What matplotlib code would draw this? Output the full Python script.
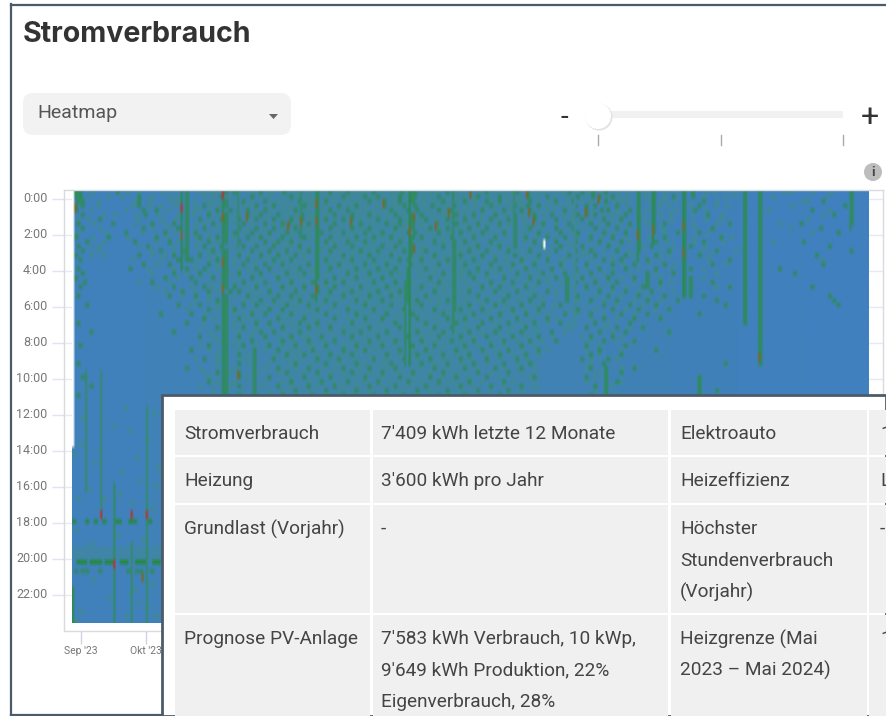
import matplotlib
matplotlib.use('Agg')
import matplotlib.pyplot as plt
import numpy as np
from matplotlib.colors import LinearSegmentedColormap
from matplotlib.patches import Circle, FancyBboxPatch, Polygon, Rectangle
from matplotlib.transforms import ScaledTranslation

plt.rcParams['font.family'] = ['Roboto', 'DejaVu Sans']

N_DAYS = 367
N_ROWS = 96

hour_labels = ['0:00', '2:00', '4:00', '6:00', '8:00', '10:00', '12:00',
               '14:00', '16:00', '18:00', '20:00', '22:00']
month_labels = ["Sep '23", "Okt '23"]
month_days = [4, 34]

# tint per month (start day, level)
month_base = [(0, 0.02), (34, 0.05), (64, 0.10), (95, 0.14), (126, 0.16), (157, 0.16),
              (185, 0.12), (216, 0.07), (246, 0.06), (277, 0.03), (307, 0.01), (338, 0.0)]

# quarter hour rows 0-45, day of each marked cell, negative = the paler green
rows_top = [
    [1, 3, 20, -30, 52, -60, -66, 70, 74, -80, 86, -92, 97, -104, 112, 118, 126, -132, 138, -146, 151, 155, 157, -164, 172, -178, 190, -196, 204, 209, -222, 228, 234, 239, 245, -250, 260, 267, -272, 281, 285, -295, 309, 316, -330, 358],
    [1, 3, -22, 30, -44, 52, 68, -75, 82, -90, 100, -106, 112, -120, 124, 134, 140, 150, 155, 157, 168, -176, 186, 196, -202, 209, 218, -226, 232, 239, 242, 248, -254, 260, 267, 276, 281, 285, -300, 309, 316, 358],
    [2, 4, -28, 30, -48, 52, -62, 70, 78, 88, -94, 104, 112, 116, -128, 136, 143, 150, 156, -162, 170, 180, 190, 196, -206, 210, 222, 230, -238, 245, -252, 260, -265, 267, 281, 290, 309, 316, -336, 345, 358],
    [1, 4, 30, -40, 52, 60, 70, -78, 84, 92, -100, 106, 112, 122, 130, -140, 143, 152, 157, 165, 175, -185, 192, 203, 209, 214, -224, 231, 236, 240, 250, 260, 267, -274, 281, 288, -296, 309, 316, 355, 358],
    [1, 32, 38, 52, -58, 66, 72, 80, 88, -96, 102, 112, 118, 126, -134, 146, 154, 158, 168, 173, -180, 188, 198, 206, 210, -218, 226, 236, 243, 246, 256, 260, 267, 281, 286, 309, 316, 340, 358],
    [4, -14, 33, 52, 62, 70, -76, 80, 86, 94, 105, -110, 112, 120, 128, 136, 148, 155, 160, -170, 176, 184, 194, 203, 212, 220, 232, 236, 240, -248, 254, 260, 267, -275, 281, 292, 309, 316, 350, 358],
    [-2, 12, 52, 58, 68, 70, 76, 84, 92, 100, 105, 112, 116, 124, 128, 140, 150, 156, 162, 172, 180, 192, 200, 203, 212, 222, 234, 244, 252, 260, 267, 281, -298, 309, 316, 358],
    [2, 18, 36, 46, 52, 64, 70, 78, 88, 96, 99, 108, 112, 120, 132, 144, 150, 156, 167, 176, 186, 196, 203, 216, 228, 238, 246, 256, 260, 267, 272, 281, 302, 309, 316, 335, 358],
    [4, 32, 48, 52, 60, 70, 76, 84, 92, 102, 112, 118, 128, 136, 148, 156, 164, 172, 182, 190, 203, 210, 222, 230, 240, 250, 260, 267, 281, 294, 309, 316, 344],
    [-2, 24, 42, 52, 56, 70, 74, 82, 90, 98, 104, 112, 114, 124, 134, 142, 154, 157, 168, 178, 188, 198, 203, 214, 224, 232, 244, 254, 260, 267, 278, 281, 288, 309, 316, 352],
    [1, 16, 38, 52, 58, 66, 70, 80, 86, 96, 106, 112, 118, 130, 138, 146, 156, 160, 174, 184, 194, 203, 208, 218, 226, 238, 248, 260, 272, 281, 298, 309, 316],
    [6, 28, 44, 52, 62, 70, 76, 88, 94, 100, 112, 116, 126, 134, 150, 155, 166, 175, 180, 192, 203, 212, 222, 231, 242, 252, 260, 268, 281, 290, 309, 316, 336],
    [2, -12, 34, 52, 60, 68, 78, 84, 92, 104, 112, 120, 128, 142, 148, 156, 170, 175, 186, 196, 203, 216, 224, 234, 246, 260, 266, 281, 284, 309, 316, 348],
    [4, 40, 50, 52, 64, 70, 82, 90, 98, 108, 112, 118, 132, 140, 152, 156, 162, 175, 182, 190, 200, 210, 222, 231, 238, 250, 260, 274, 281, 296, 309, 316, 358],
    [1, -8, 30, 46, 52, 58, 70, 76, 86, 94, 102, 112, 124, 136, 146, 155, 166, 175, 178, 188, 203, 214, 228, 240, 254, 268, 281, 288, 309, 316, 342],
    [3, 54, 48, 52, 66, 70, 80, 92, 100, 112, 116, 128, 138, 150, 154, 160, 172, 175, 184, 194, 206, 218, 231, 244, 252, 264, 281, 302, 309, 316],
    [32, 44, 62, 70, 78, 88, 96, 108, 112, 122, 134, 144, 155, 168, 175, 180, 192, 202, 212, 224, 236, 248, 258, 272, 281, 294, 309, 316, 345],
    [2, 26, 52, 60, 70, 84, 90, 104, 112, 118, 130, 140, 148, 154, 162, 175, 186, 196, 208, 220, 231, 242, 254, 268, 281, 284, 309, 316, 325],
    [4, 46, 58, 70, 76, 86, 98, 106, 112, 126, 136, 146, 154, 170, 175, 182, 190, 204, 216, 226, 238, 248, 264, 276, 281, 309, 316, 332],
    [1, 42, 54, 64, 70, 82, 94, 112, 120, 130, 142, 154, 164, 175, 184, 198, 210, 222, 227, 234, 246, 258, 264, 281, 284, 309, 316],
    [5, 36, 56, 70, 78, 88, 100, 110, 116, 124, 138, 148, 153, 168, 175, 192, 202, 214, 227, 231, 240, 250, 264, 270, 281, 284, 294, 309, 316],
    [3, 46, 60, 70, 74, 84, 96, 106, 112, 120, 132, 144, 153, 160, 175, 188, 196, 208, 227, 236, 248, 262, 264, 281, 284, 302, 309, 316, 340],
    [50, 62, 72, 76, 90, 102, 112, 118, 128, 140, 150, 153, 166, 175, 182, 194, 204, 218, 227, 242, 254, 266, 281, 284, 309, 316],
    [2, 44, 56, 70, 80, 94, 100, 110, 124, 136, 146, 153, 162, 175, 186, 200, 212, 227, 232, 246, 260, 272, 281, 284, 290, 309, 316, 348],
    [66, 70, 86, 92, 104, 116, 130, 142, 153, 158, 172, 175, 190, 198, 210, 227, 238, 250, 264, 278, 296, 309, 316, 350],
    [6, 48, 58, 70, 78, 84, 98, 108, 120, 134, 146, 160, 175, 182, 194, 206, 216, 224, 244, 256, 268, 300, 309, 316, 352],
    [62, 70, 74, 90, 96, 112, 126, 138, 152, 166, 175, 178, 188, 202, 214, 232, 248, 260, 274, 309, 316],
    [40, 54, 70, 82, 88, 100, 116, 130, 144, 156, 170, 184, 196, 208, 226, 238, 252, 264, 288, 309, 316],
    [60, 70, 76, 94, 106, 120, 134, 142, 158, 172, 180, 192, 204, 218, 244, 258, 270, 309, 316],
    [2, 52, 70, 84, 90, 104, 112, 128, 148, 162, 176, 188, 200, 212, 224, 240, 256, 309, 316],
    [66, 70, 78, 96, 108, 118, 136, 150, 166, 174, 186, 196, 208, 236, 250, 262, 316],
    [8, 46, 70, 86, 92, 104, 124, 132, 144, 158, 170, 182, 194, 206, 220, 242, 254, 274, 316],
    [58, 70, 76, 88, 100, 114, 128, 140, 154, 168, 178, 190, 202, 214, 238, 248, 316],
    [70, 82, 96, 108, 120, 136, 148, 160, 174, 184, 198, 210, 222, 244, 258, 316],
    [3, 62, 70, 78, 90, 102, 116, 130, 142, 156, 166, 180, 192, 206, 236, 254, 316],
    [54, 70, 83, 94, 110, 124, 134, 150, 162, 176, 188, 200, 214, 242, 268, 316],
    [70, 76, 83, 98, 106, 118, 128, 144, 158, 170, 182, 196, 208, 238, 252, 316],
    [60, 70, 83, 92, 112, 122, 138, 152, 164, 178, 190, 204, 234, 246, 316],
    [2, 70, 76, 83, 102, 116, 130, 146, 160, 172, 184, 198, 210, 244, 300, 316],
    [52, 70, 83, 94, 108, 124, 136, 148, 166, 180, 194, 206, 238, 245, 258],
    [66, 70, 76, 83, 98, 112, 128, 142, 156, 170, 186, 200, 245, 252],
    [4, 70, 76, 83, 90, 106, 118, 134, 150, 164, 176, 190, 212, 236, 245, 288],
    [62, 70, 83, 100, 114, 126, 140, 154, 168, 182, 198, 245, 250, 288],
    [8, 70, 76, 83, 94, 108, 120, 136, 148, 162, 178, 192, 206, 240, 245, 288],
    [70, 83, 102, 116, 130, 144, 158, 172, 186, 200, 245, 288, 296],
    [2, 70, 76, 83, 96, 110, 124, 138, 152, 168, 180, 196, 238, 245, 288],
]

# second pass of paler cells, same rows
rows_soft = [
    [9, 25, 41, 57, 63, 83, 90, 101, 108, 115, 122, 129, 135, 142, 149, 161, 167, 175, 182, 188, 193, 199, 212, 216, 225, 237, 243, 256, 263, 278, 291, 303, 327, 340, 349],
    [7, 16, 36, 47, 60, 64, 71, 86, 96, 103, 109, 116, 127, 131, 137, 146, 153, 161, 165, 172, 180, 184, 191, 199, 205, 214, 221, 229, 236, 246, 251, 264, 272, 290, 305, 322, 347],
    [12, 35, 45, 56, 65, 73, 82, 91, 98, 107, 110, 119, 125, 131, 139, 147, 153, 159, 166, 174, 177, 185, 193, 200, 204, 213, 219, 227, 234, 242, 249, 256, 271, 277, 296, 338],
    [11, 27, 35, 47, 56, 63, 67, 75, 81, 89, 96, 103, 109, 116, 126, 134, 147, 149, 161, 168, 171, 181, 189, 195, 200, 206, 217, 221, 228, 245, 254, 270, 284, 301, 331],
    [8, 24, 43, 56, 62, 69, 76, 84, 91, 99, 107, 115, 122, 130, 138, 142, 150, 163, 171, 177, 184, 193, 201, 214, 221, 230, 239, 250, 264, 277, 291, 320, 348],
    [19, 29, 39, 48, 55, 66, 74, 83, 90, 98, 102, 108, 116, 124, 131, 140, 144, 152, 165, 173, 180, 188, 198, 207, 216, 225, 229, 244, 251, 270, 285, 299, 345],
    [7, 30, 40, 47, 62, 72, 80, 88, 96, 103, 109, 120, 132, 136, 144, 153, 159, 167, 175, 184, 188, 195, 207, 217, 226, 230, 238, 248, 263, 275, 291, 338],
    [9, 28, 42, 56, 60, 74, 82, 92, 102, 105, 116, 125, 128, 138, 147, 153, 160, 171, 180, 190, 200, 208, 212, 222, 232, 242, 251, 265, 285, 296, 325],
    [12, 36, 44, 56, 66, 80, 88, 96, 106, 109, 122, 132, 141, 152, 160, 168, 177, 186, 195, 199, 207, 216, 226, 235, 245, 255, 271, 286, 330],
    [15, 31, 47, 62, 78, 86, 94, 101, 108, 120, 128, 138, 147, 151, 162, 173, 184, 192, 207, 218, 229, 238, 248, 259, 272, 292, 340],
    [9, 25, 43, 56, 62, 74, 84, 90, 100, 109, 122, 126, 135, 142, 150, 166, 170, 179, 189, 199, 213, 222, 232, 243, 254, 265, 285, 303],
    [14, 38, 48, 58, 66, 82, 92, 98, 104, 120, 130, 138, 145, 159, 170, 185, 196, 207, 216, 227, 237, 247, 256, 273, 286, 299, 322],
    [8, 30, 45, 56, 64, 73, 88, 97, 100, 108, 116, 124, 134, 138, 152, 161, 178, 182, 192, 200, 210, 220, 229, 240, 251, 262, 276, 291],
    [11, 36, 46, 58, 62, 76, 86, 94, 104, 114, 122, 128, 136, 146, 159, 167, 178, 186, 195, 205, 217, 226, 235, 244, 256, 270, 289, 305],
    [14, 36, 42, 62, 66, 80, 90, 98, 106, 118, 128, 132, 141, 150, 160, 170, 183, 193, 199, 208, 219, 233, 236, 248, 258, 274, 293],
    [27, 40, 57, 62, 74, 84, 88, 96, 106, 120, 124, 134, 144, 157, 165, 178, 188, 199, 212, 224, 226, 238, 248, 259, 270, 292, 345],
    [38, 50, 56, 66, 74, 83, 92, 102, 116, 118, 128, 138, 149, 160, 172, 186, 198, 206, 218, 230, 241, 253, 265, 277, 300],
    [34, 46, 56, 66, 76, 80, 96, 100, 110, 124, 134, 144, 158, 166, 178, 180, 192, 201, 214, 225, 236, 248, 260, 275, 290],
    [36, 52, 62, 72, 82, 92, 102, 110, 116, 130, 140, 150, 160, 166, 178, 186, 194, 198, 210, 220, 232, 244, 256, 268, 296],
    [48, 58, 68, 76, 86, 100, 104, 116, 124, 136, 148, 158, 170, 178, 190, 204, 214, 218, 228, 240, 252, 270, 290],
    [30, 44, 62, 74, 84, 94, 106, 120, 128, 134, 142, 156, 162, 172, 180, 186, 198, 208, 218, 224, 235, 246, 258, 275],
    [38, 54, 64, 68, 80, 90, 100, 112, 116, 126, 138, 148, 166, 170, 182, 192, 202, 212, 220, 230, 242, 254, 270, 296],
    [42, 56, 66, 82, 86, 96, 106, 124, 132, 136, 146, 158, 170, 178, 188, 198, 210, 222, 236, 248, 260, 276],
    [50, 62, 74, 84, 90, 104, 116, 118, 130, 140, 150, 156, 168, 180, 192, 206, 216, 222, 240, 252, 264],
    [56, 62, 78, 82, 96, 100, 110, 122, 134, 136, 148, 164, 168, 180, 186, 196, 204, 216, 232, 244, 258, 270],
    [54, 66, 72, 88, 92, 102, 114, 126, 140, 152, 156, 168, 176, 188, 200, 212, 222, 236, 250, 262],
    [52, 66, 82, 86, 102, 108, 118, 132, 144, 158, 172, 182, 192, 198, 208, 220, 228, 240, 254, 268],
    [60, 74, 78, 94, 106, 110, 122, 136, 150, 162, 176, 190, 202, 214, 218, 232, 244, 258],
    [64, 80, 84, 98, 112, 126, 130, 148, 152, 166, 176, 186, 196, 210, 222, 238, 250],
    [60, 74, 78, 96, 100, 108, 118, 134, 140, 154, 168, 180, 194, 206, 218, 228, 246],
    [58, 74, 84, 90, 102, 112, 124, 130, 142, 156, 160, 180, 192, 202, 214, 228, 244, 256],
    [62, 76, 82, 98, 112, 118, 128, 138, 152, 164, 176, 188, 200, 212, 226, 248],
    [64, 82, 94, 106, 108, 120, 134, 146, 160, 162, 172, 184, 196, 208, 220, 234, 252],
    [66, 76, 88, 100, 114, 126, 130, 142, 154, 166, 178, 192, 204, 216, 238, 250],
    [58, 74, 84, 96, 108, 110, 124, 136, 148, 162, 170, 186, 198, 212, 242],
    [62, 76, 88, 100, 104, 116, 130, 140, 156, 168, 180, 194, 206, 218, 236, 252],
    [66, 80, 92, 102, 112, 124, 136, 150, 164, 176, 190, 202, 214, 242],
    [56, 66, 78, 98, 104, 118, 130, 144, 158, 170, 182, 196, 208, 238, 250],
    [66, 80, 90, 100, 110, 122, 134, 142, 154, 166, 178, 190, 204, 238],
    [58, 74, 88, 102, 114, 120, 132, 144, 158, 172, 186, 198, 212, 236, 252],
    [60, 72, 84, 94, 106, 118, 124, 136, 150, 164, 176, 192, 206, 242],
    [62, 80, 90, 100, 112, 124, 130, 142, 156, 170, 182, 196, 210, 240],
    [66, 74, 88, 96, 108, 120, 134, 146, 160, 174, 188, 202, 236, 252],
    [58, 72, 86, 100, 112, 124, 130, 142, 154, 168, 184, 198, 212, 248],
    [64, 78, 90, 96, 108, 122, 136, 150, 164, 178, 192, 206, 240],
    [60, 74, 86, 102, 116, 128, 132, 144, 158, 174, 188, 202, 250],
]

# cells below the top band, only days left of the table stay visible
lower_days = [4, 18, 26, 34, 0, 10, 22, 30, 38, 2, 14, 27, 36, 20, 32, 8, 27, 40, 16, 34, 24, 37, 3, 12, 29, 39, 7, 21, 33, 1, 31, 9, 36, 28, 26, 30, 3, 24, 38, 1]
lower_rows = [50, 52, 53, 55, 58, 60, 62, 64, 65, 68, 68, 69, 70, 76, 77, 78, 78, 79, 90, 92, 48, 49, 56, 57, 59, 61, 66, 67, 71, 75, 80, 86, 87, 88, 89, 91, 93, 94, 94, 95]
evening_days = [0, 6, 10, 14, 19, 21, 26, 28, 35]
evening_row = 73
peak_days = [2, 3, 4, 5, 8, 9, 10, 11, 12, 15, 16, 17, 18, 22, 23, 24, 29, 30, 31, 32, 37, 38, 39]
peak_row = 82
after_peak_days = [1, 4, 6, 12, 25, 26, 29, 31, 36]
after_peak_row = 84

# day, first row, last row, level
stripes = [
    (6, 40, 66, 0.42), (13, 40, 72, 0.4), (19, 65, 95, 0.45), (27, 78, 95, 0.42), (34, 48, 95, 0.42),
    (0, 88, 95, 0.5), (50, 0, 17, 0.5), (69, 0, 45, 0.48), (76, 0, 12, 0.4), (83, 35, 45, 0.42),
    (105, 0, 10, 0.42), (112, 0, 24, 0.48), (155, 0, 38, 0.52), (153, 24, 38, 0.45), (175, 0, 31, 0.45),
    (203, 0, 12, 0.4), (231, 0, 30, 0.3), (260, 0, 15, 0.48), (267, 0, 11, 0.52), (281, 0, 23, 0.52),
    (309, 0, 29, 0.48), (316, 0, 38, 0.48), (358, 0, 8, 0.45),
]
brown_days = [1, 50, 69, 69, 69, 76, 80, 99, 105, 112, 112, 112, 128, 143, 155, 157, 157, 167, 173, 183, 209, 210, 212, 236, 242, 260, 267, 281, 281, 316, 32]
brown_rows = [3, 9, 5, 15, 21, 40, 5, 7, 6, 2, 6, 21, 6, 2, 8, 5, 12, 7, 4, 0, 0, 4, 6, 4, 1, 9, 8, 7, 13, 36, 85]
red_days = [50, 69, 13, 27, 34, 19]
red_rows = [3, 0, 71, 71, 71, 82]
missing_days = [217]
missing_rows = [11]

table_rows = [
    ['Stromverbrauch', "7'409 kWh letzte 12 Monate", 'Elektroauto', '1'],
    ['Heizung', "3'600 kWh pro Jahr", 'Heizeffizienz', 'L'],
    ['Grundlast (Vorjahr)', '-', 'Höchster\nStundenverbrauch\n(Vorjahr)', '-'],
    ['Prognose PV-Anlage', "7'583 kWh Verbrauch, 10 kWp,\n9'649 kWh Produktion, 22%\nEigenverbrauch, 28%",
     'Heizgrenze (Mai\n2023 – Mai 2024)', '1'],
]

grid = np.zeros((N_ROWS, N_DAYS))
for start, level in month_base:
    grid[:, start:] = level
grid[79:82, :] = np.maximum(grid[79:82, :], 0.15)

for row, days in enumerate(rows_soft):
    for d in days:
        grid[row, d:d + 2] = 0.3
for row, days in enumerate(rows_top):
    for d in days:
        level = 0.3 if d < 0 else 0.46
        grid[row, abs(d):abs(d) + 2] = level
for d, r in zip(lower_days, lower_rows):
    grid[r, d:d + 2] = 0.3
for d in evening_days:
    grid[evening_row, d:d + 2] = 0.55
for d in peak_days:
    grid[peak_row, d:d + 2] = 0.6
for d in after_peak_days:
    grid[after_peak_row, d:d + 2] = 0.45
for d, r0, r1, level in stripes:
    grid[r0:r1 + 1, d] = level
for d, r in zip(brown_days, brown_rows):
    grid[r:r + 2, d] = 0.8
for d, r in zip(red_days, red_rows):
    grid[r:r + 2, d] = 1.0
for d, r in zip(missing_days, missing_rows):
    grid[r:r + 2, d] = np.nan
grid[:57, 0] = np.nan

cmap = LinearSegmentedColormap.from_list('strom', [(0, '#4180be'), (0.3, '#3f8a92'), (0.6, '#238a3c'),
                                                   (0.8, '#786a28'), (1, '#ad3a32')])
cmap.set_bad('white')

W, H = 886, 716
fig = plt.figure(figsize=(W / 100, H / 100), dpi=100, facecolor='white')

# plot frame in pixels, 2.17 px per day and 4.5 px per quarter hour
left, right, top, bottom = 64, 883, 190, 631
ax = fig.add_axes([left / W, 1 - bottom / H, (right - left) / W, (bottom - top) / H])
ax.imshow(grid, cmap=cmap, vmin=0, vmax=1, aspect='auto', interpolation='bilinear',
          extent=(0, N_DAYS, 96.2, 0), zorder=2)
ax.set_xlim((left - 72) / 2.17, (right - 72) / 2.17)
ax.set_ylim((bottom - top) / 4.5, 0)
ax.set_yticks([2.1 + 8 * i for i in range(len(hour_labels))])
ax.set_yticklabels(hour_labels)
ax.set_xticks(month_days)
ax.set_xticklabels(month_labels)
ax.tick_params(axis='y', length=9, width=1, color='#dfe3f3', labelcolor='#777777', labelsize=9, pad=3)
ax.tick_params(axis='x', length=9, width=1, color='#ccd3e6', labelcolor='#777777', labelsize=7.5, pad=2)
up = ScaledTranslation(0, 2 / 100, fig.dpi_scale_trans)
for t in ax.get_yticklabels():
    t.set_transform(t.get_transform() + up)
ax.grid(axis='y', color='#e6e9f5', linewidth=1, zorder=1)
ax.set_axisbelow(True)
for side in ['left', 'bottom', 'top', 'right']:
    ax.spines[side].set_color('#d8dae0')
    ax.spines[side].set_linewidth(1)

# page elements around the chart
ui = fig.add_axes([0, 0, 1, 1], zorder=5)
ui.set_xlim(0, W)
ui.set_ylim(H, 0)
ui.axis('off')
ui.patch.set_alpha(0)

frame = '#4c5b69'
ui.plot([11, 886], [4.5, 4.5], color=frame, lw=1.6)
ui.plot([11.5, 11.5], [4, 714.5], color=frame, lw=1.6)
ui.plot([11, 162], [714.5, 714.5], color=frame, lw=1.6)

ui.text(23, 35, 'Stromverbrauch', fontsize=20.6, fontweight='bold', family=['Inter', 'DejaVu Sans'],
        color='#333333', va='center')

ui.add_patch(FancyBboxPatch((23, 93), 268, 42, boxstyle='round,pad=0,rounding_size=10',
                            fc='#f2f2f2', ec='none'))
ui.text(37, 113, 'Heatmap', fontsize=14, color='#555555', va='center')
ui.add_patch(Polygon([[269, 114], [278, 114], [273.5, 119]], fc='#666666', ec='none'))

ui.text(564, 117, '-', fontsize=20, color='#333333', ha='center', va='center')
ui.add_patch(Rectangle((598, 111), 245, 7, fc='#f1f1f1', ec='none'))
for x in [598, 721, 843]:
    ui.plot([x, x], [135, 145], color='#aaaaaa', lw=1)
ui.add_patch(Circle((599, 117), 13.5, fc='#e2e2e2', ec='none'))
ui.add_patch(Circle((598, 116), 13, fc='white', ec='none'))
ui.text(869.5, 118, '+', fontsize=23, color='#333333', ha='center', va='center')
ui.add_patch(Circle((873, 172), 9, fc='#bdbdbd', ec='none'))
ui.text(873, 172, 'i', fontsize=9.5, fontweight='bold', color='#444444', ha='center', va='center')

# table panel on top of the chart
ui.add_patch(Rectangle((162, 395), W - 162, H - 395, fc='white', ec=frame, lw=2))

col_edges = [(175, 370.5), (373, 668), (671, 867), (869, 890)]
row_edges = [(410, 455), (457, 503), (505, 613), (615, 720)]
text_x = [184, 381, 680, 880]
for r, (y0, y1) in enumerate(row_edges):
    for c, (x0, x1) in enumerate(col_edges):
        ui.add_patch(Rectangle((x0, y0), x1 - x0, y1 - y0, fc='#f0f0f0', ec='none'))
        lines = table_rows[r][c].split('\n')
        for i, line in enumerate(lines):
            ui.text(text_x[c], y0 + 24 + i * 31.7, line, fontsize=13.7, color='#444444',
                    va='center', clip_on=True)

fig.savefig('out.png', dpi=100)
